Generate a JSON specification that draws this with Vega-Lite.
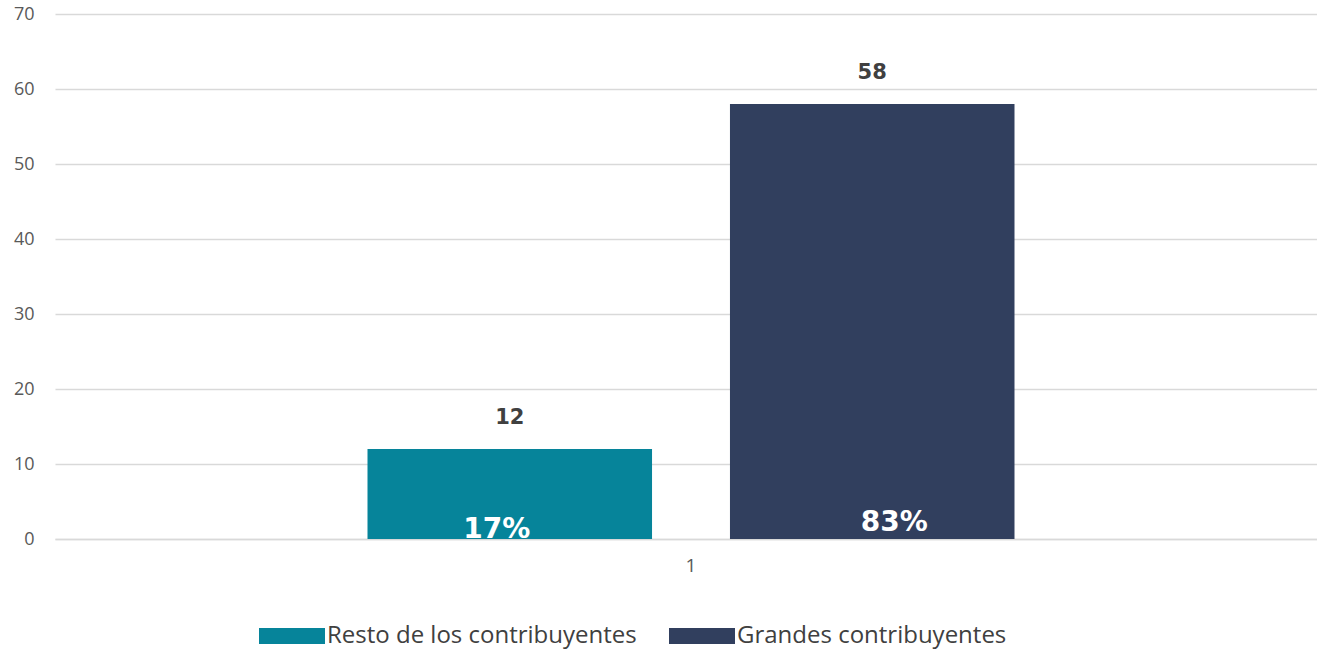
{
  "$schema": "https://vega.github.io/schema/vega-lite/v6.json",
  "autosize": "none",
  "width": 1272,
  "height": 525,
  "padding": {"left": 55, "top": 14, "right": 0, "bottom": 111},
  "background": "white",
  "config": {
    "font": "Open Sans",
    "view": {"stroke": null}
  },
  "data": {
    "values": [
      {"cat": "1", "serie": "Resto de los contribuyentes", "value": 12, "pct": "17%"},
      {"cat": "1", "serie": "Grandes contribuyentes", "value": 58, "pct": "83%"}
    ]
  },
  "encoding": {
    "x": {
      "field": "cat", "type": "nominal", "title": null,
      "scale": {"paddingInner": 0, "paddingOuter": 0.483},
      "axis": {"labelAngle": 0, "labelFontSize": 19, "labelColor": "#595959", "labelPadding": 17, "ticks": false, "domain": true, "domainColor": "#d9d9d9", "domainWidth": 1.5, "labelFont": "Open Sans"}
    },
    "xOffset": {
      "field": "serie", "type": "nominal",
      "sort": ["Resto de los contribuyentes", "Grandes contribuyentes"],
      "scale": {"paddingInner": 0.215, "paddingOuter": 0}
    }
  },
  "layer": [
    {
      "mark": {"type": "bar"},
      "encoding": {
        "y": {
          "field": "value", "type": "quantitative", "title": null,
          "scale": {"domain": [0, 70], "nice": false},
          "axis": {"values": [0, 10, 20, 30, 40, 50, 60, 70], "labelFont": "Open Sans", "labelFontSize": 18, "labelColor": "#595959", "labelPadding": 21, "ticks": false, "domain": false, "gridColor": "#d9d9d9", "gridWidth": 1.5}
        },
        "color": {
          "field": "serie", "type": "nominal", "title": null,
          "sort": ["Resto de los contribuyentes", "Grandes contribuyentes"],
          "scale": {"domain": ["Resto de los contribuyentes", "Grandes contribuyentes"], "range": ["#06849a", "#313f5e"]},
          "legend": {
            "orient": "none", "direction": "horizontal",
            "legendX": 204, "legendY": 589,
            "symbolType": "M-1,-0.24H1V0.24H-1Z",
            "symbolSize": 4356,
            "symbolStrokeWidth": 0,
            "symbolOpacity": 1,
            "labelFont": "Open Sans",
            "labelFontSize": 24, "labelColor": "#404040", "labelOffset": 2,
            "labelLimit": 500, "columnPadding": 32
          }
        }
      }
    },
    {
      "mark": {"type": "text", "font": "DejaVu Sans", "fontSize": 21, "fontWeight": "bold", "color": "#404040", "baseline": "middle", "dy": -31},
      "encoding": {
        "y": {"field": "value", "type": "quantitative"},
        "text": {"field": "value", "type": "quantitative"}
      }
    },
    {
      "transform": [{"filter": "datum.serie === 'Grandes contribuyentes'"}],
      "mark": {"type": "text", "font": "DejaVu Sans", "fontSize": 28, "fontWeight": "bold", "color": "white", "baseline": "alphabetic", "dy": -8, "dx": 22},
      "encoding": {
        "y": {"datum": 0, "type": "quantitative"},
        "text": {"field": "pct", "type": "nominal"}
      }
    },
    {
      "transform": [{"filter": "datum.serie === 'Resto de los contribuyentes'"}],
      "mark": {"type": "text", "font": "DejaVu Sans", "fontSize": 28, "fontWeight": "bold", "color": "white", "baseline": "alphabetic", "dy": -1, "dx": -13},
      "encoding": {
        "y": {"datum": 0, "type": "quantitative"},
        "text": {"field": "pct", "type": "nominal"}
      }
    }
  ]
}
